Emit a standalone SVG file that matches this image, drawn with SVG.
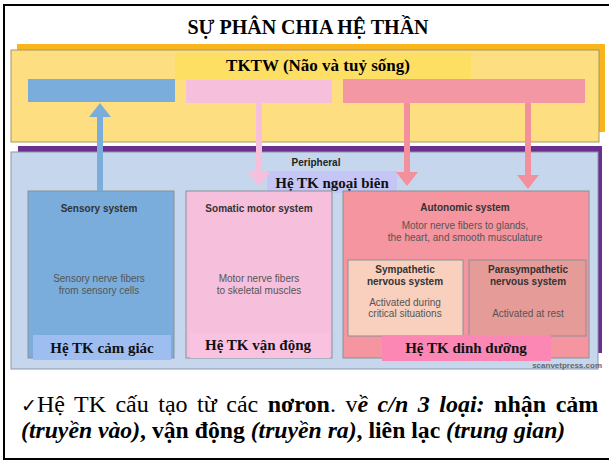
<svg xmlns="http://www.w3.org/2000/svg" width="609" height="461" viewBox="0 0 609 461">
<defs>
<style>
.serif{font-family:"Liberation Serif","Times New Roman",serif;fill:#000}
.b{font-weight:bold}
.i{font-style:italic}
.sans{font-family:"Liberation Sans","Open Sans",Arial,sans-serif}
.h{font-size:10px;font-weight:bold;fill:#333;text-anchor:middle}
.t{font-size:10px;fill:#555;text-anchor:middle}
.lbl{font-family:"Liberation Serif","Times New Roman",serif;font-weight:bold;font-size:15px;fill:#111;text-anchor:middle}
.box{stroke:#8a8f98;stroke-width:1}
</style>
</defs>
<rect x="0" y="0" width="609" height="461" fill="#fff"/>
<rect x="4" y="5" width="612" height="454" fill="none" stroke="#000" stroke-width="2"/>
<text class="serif b" x="308" y="34" font-size="20" text-anchor="middle">SỰ PHÂN CHIA HỆ THẦN</text>

<g id="cns">
<rect x="17" y="44" width="588" height="88" fill="#f9b51c"/>
<rect x="11" y="50" width="588" height="92" fill="#fddf82" stroke="#a89660" stroke-width="1"/>
<rect x="175" y="53" width="296" height="27" fill="#fde063"/>
<text class="serif b" x="318" y="71" font-size="17" text-anchor="middle">TKTW (Não và tuỷ sống)</text>
<rect x="28" y="79" width="147" height="23" fill="#7aaddc"/>
<rect x="186" y="80" width="146" height="23" fill="#f6c0dc"/>
<rect x="343" y="79" width="242" height="24" fill="#f497a4"/>
</g>

<g id="peripheral">
<rect x="18" y="146" width="584" height="207" fill="#6a2f8f"/>
<rect x="11" y="152" width="587" height="217" fill="#c6d6ec" stroke="#8a96a8" stroke-width="1"/>
<text class="sans" x="316" y="166" font-size="10" font-weight="bold" fill="#222" text-anchor="middle">Peripheral</text>
<rect x="267" y="171" width="130" height="22" fill="#c5c6f5"/>
<text class="lbl" x="332" y="188">Hệ TK ngoại biên</text>
</g>

<g id="sensory">
<rect class="box" x="28" y="191" width="146" height="167" fill="#7aaddc"/>
<text class="sans h" x="99" y="212">Sensory system</text>
<text class="sans t" x="99" y="282">Sensory nerve fibers</text>
<text class="sans t" x="99" y="294">from sensory cells</text>
<rect x="33" y="335" width="138" height="25" fill="#9ebef2"/>
<text class="lbl" x="102" y="353">Hệ TK cảm giác</text>
</g>

<g id="somatic">
<rect class="box" x="186" y="191" width="146" height="167" fill="#f6c0dc"/>
<text class="sans h" x="259" y="212">Somatic motor system</text>
<text class="sans t" x="259" y="282">Motor nerve fibers</text>
<text class="sans t" x="259" y="294">to skeletal muscles</text>
<rect x="190" y="333" width="140" height="25" fill="#f9c2e0"/>
<text class="lbl" x="258" y="350">Hệ TK vận động</text>
</g>

<g id="autonomic">
<rect class="box" x="343" y="191" width="246" height="167" fill="#f4959f"/>
<text class="sans h" x="465" y="211">Autonomic system</text>
<text class="sans t" x="465" y="229">Motor nerve fibers to glands,</text>
<text class="sans t" x="465" y="241">the heart, and smooth musculature</text>
</g>

<g id="sympathetic">
<rect class="box" x="348" y="260" width="115" height="76" fill="#f9cfbd"/>
<text class="sans h" x="405" y="273">Sympathetic</text>
<text class="sans h" x="405" y="285">nervous system</text>
<text class="sans t" x="405" y="306">Activated during</text>
<text class="sans t" x="405" y="317">critical situations</text>
</g>

<g id="parasympathetic">
<rect class="box" x="469" y="260" width="117" height="76" fill="#e59c98"/>
<text class="sans h" x="528" y="273">Parasympathetic</text>
<text class="sans h" x="528" y="285">nervous system</text>
<text class="sans t" x="528" y="317">Activated at rest</text>
</g>

<g id="autonomic-label">
<rect x="382" y="335" width="169" height="26" fill="#fc86b4"/>
<text class="lbl" x="466" y="353">Hệ TK dinh dưỡng</text>
</g>

<text class="sans" x="602" y="368" font-size="8" font-weight="bold" fill="#666" text-anchor="end">scanvetpress.com</text>

<g id="connectors">
<rect x="97" y="116" width="6" height="75" fill="#7aaddc"/>
<polygon points="100,103 89,117 111,117" fill="#7aaddc"/>
<rect x="256" y="103" width="6" height="70" fill="#f6c0dc"/>
<polygon points="259,186 248,172 270,172" fill="#f6c0dc"/>
<rect x="404" y="103" width="6" height="70" fill="#f2919d"/>
<polygon points="407,186 396,172 418,172" fill="#f2919d"/>
<rect x="525" y="103" width="6" height="73" fill="#f2919d"/>
<polygon points="528,189 517,175 539,175" fill="#f2919d"/>
</g>

<g id="note">
<text class="serif" font-size="24" x="21" y="412" word-spacing="3.5"><tspan font-family="DejaVu Sans" font-size="19">✓</tspan>Hệ TK cấu tạo từ các <tspan class="b">nơron</tspan>. v<tspan class="b i">ề c/n 3 loại:</tspan> <tspan class="b">nhận cảm</tspan></text>
<text class="serif" font-size="23.7" x="21" y="438"><tspan class="b i">(truyền vào)</tspan><tspan class="b">, vận động </tspan><tspan class="b i">(truyền ra)</tspan><tspan class="b">, liên lạc </tspan><tspan class="b i">(trung gian)</tspan></text>
</g>
</svg>
